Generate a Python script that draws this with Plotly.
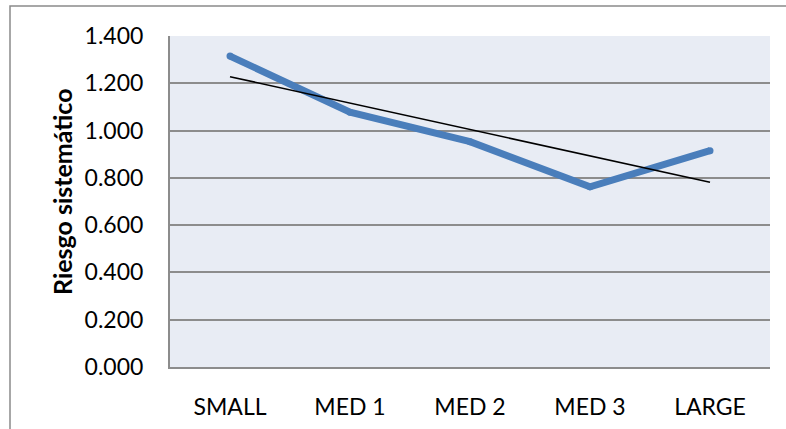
import numpy as np
import plotly.graph_objects as go

# Portfolio size groups and their systematic risk (beta)
categories = ["SMALL", "MED 1", "MED 2", "MED 3", "LARGE"]
beta = [1.315, 1.078, 0.953, 0.762, 0.915]
y_ticks = [0.0, 0.2, 0.4, 0.6, 0.8, 1.0, 1.2, 1.4]

# Linear trendline fitted on the category index
idx = np.arange(len(categories))
slope, intercept = np.polyfit(idx, beta, 1)
trend = (slope * idx + intercept).tolist()

BLUE = "#4A7EBB"
GRID = "#8C8C8C"
FONT = "Lato"

fig = go.Figure()
fig.add_trace(go.Scatter(
    x=categories, y=beta, mode="lines+markers",
    line=dict(color=BLUE, width=7),
    marker=dict(color=BLUE, size=7, line=dict(width=0)),
    hoverinfo="skip", showlegend=False,
))
fig.add_trace(go.Scatter(
    x=[categories[0], categories[-1]], y=[trend[0], trend[-1]], mode="lines",
    line=dict(color="black", width=1.6),
    hoverinfo="skip", showlegend=False,
))

L, R, T, B = 170, 16, 36, 62
W, H = 786, 429
pw, ph = W - L - R, H - T - B

def px_x(p):
    return (p - L) / pw

def px_y(p):
    return (H - B - p) / ph

fig.update_layout(
    width=W, height=H,
    margin=dict(l=L, r=R, t=T, b=B, pad=0, autoexpand=False),
    paper_bgcolor="white",
    plot_bgcolor="#E8ECF4",
    font=dict(family=FONT, size=23, color="black"),
    xaxis=dict(
        type="category", range=[-0.5, len(categories) - 0.5],
        showgrid=False, showline=True, linecolor=GRID, linewidth=2,
        ticks="", ticklabelstandoff=18, tickfont=dict(size=23),
        automargin=False, fixedrange=True,
    ),
    yaxis=dict(
        range=[0, 1.4], tickvals=y_ticks, tickformat=".3f",
        showgrid=True, gridcolor=GRID, gridwidth=1.5,
        showline=True, linecolor=GRID, linewidth=2,
        zeroline=False, ticks="", ticklabelstandoff=20,
        tickfont=dict(size=23), automargin=False, fixedrange=True,
    ),
    annotations=[dict(
        text="<b>Riesgo sistemático</b>", textangle=-90,
        xref="paper", yref="paper", x=px_x(62), y=px_y(192),
        xanchor="center", yanchor="middle", showarrow=False,
        font=dict(family=FONT, size=25, color="black"),
    )],
    shapes=[dict(
        type="rect", xref="paper", yref="paper",
        x0=px_x(10), x1=px_x(800), y0=px_y(440), y1=px_y(6),
        line=dict(color="#8A8A8A", width=1.5), fillcolor="rgba(0,0,0,0)",
        layer="below",
    )],
)

fig.write_html("out.html")
